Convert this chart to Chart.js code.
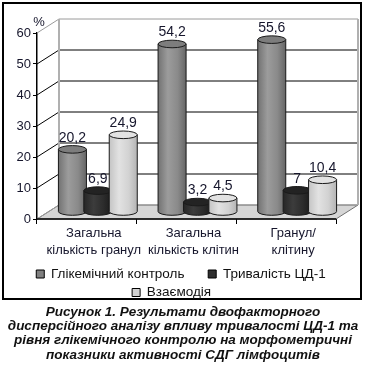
<!DOCTYPE html>
<html>
<head>
<meta charset="utf-8">
<script src="https://cdn.jsdelivr.net/npm/chart.js@4.4.1/dist/chart.umd.min.js"></script>
<style>
  body { margin: 0; background: #fff; width: 366px; height: 368px; position: relative; overflow: hidden; }
  #frame { position: absolute; left: 2px; top: 2px; width: 360px; height: 298px; border: 2px solid #000; box-sizing: border-box; }
  #wrap { position: absolute; left: 0; top: 0; width: 366px; height: 310px; }
  #caption { position: absolute; left: 0; top: 304.5px; width: 366px; text-align: center;
    font: italic bold 13.5px "Liberation Sans", Arial, sans-serif; line-height: 14.4px; color: #111; }
</style>
</head>
<body>
<div id="frame"></div>
<div id="wrap"><canvas id="myChart" width="366" height="310"></canvas></div>
<div id="caption">Рисунок 1. Результати двофакторного<br>дисперсійного аналізу впливу тривалості ЦД-1 та<br>рівня глікемічного контролю на морфометричні<br>показники активності СДГ лімфоцитів</div>
<script>
// data
const categories = [["Загальна", "кількість гранул"], ["Загальна", "кількість клітин"], ["Гранул/", "клітину"]];
const seriesNames = ["Глікемічний контроль", "Тривалість ЦД-1", "Взаємодія"];
const glycemic = [20.2, 54.2, 55.6];
const duration = [6.9, 3.2, 7];
const interaction = [24.9, 4.5, 10.4];
const yMin = 0, yMax = 60, yStep = 10;

const FONT = '"Liberation Sans", Arial, sans-serif';
const TXT = "#16162c";
const DX = 22, DY = -14;   // depth of the 3d box

// body gradient stops + top colour for each cylinder series
const cyl = [
  { stops: ["#727272", "#9c9c9c", "#8a8a8a", "#666666"], top: "#7d7d7d" },
  { stops: ["#262626", "#3c3c3c", "#2c2c2c", "#1a1a1a"], top: "#232323" },
  { stops: ["#c4c4c4", "#e2e2e2", "#d2d2d2", "#b4b4b4"], top: "#e2e2e2" }
];

const box3d = {
  id: "box3d",
  afterLayout(chart) {
    // legend is centred under the whole frame, not under the plot
    chart.legend.left += 11;
    chart.legend.right += 11;
  },
  beforeDatasetsDraw(chart) {
    const ctx = chart.ctx, y = chart.scales.y, a = chart.chartArea;
    ctx.save();
    // floor
    const y0 = y.getPixelForValue(0);
    ctx.beginPath();
    ctx.moveTo(a.left, y0); ctx.lineTo(a.right, y0);
    ctx.lineTo(a.right + DX, y0 + DY); ctx.lineTo(a.left + DX, y0 + DY);
    ctx.closePath();
    ctx.fillStyle = "#d6d6d6"; ctx.fill();
    ctx.strokeStyle = "#707070"; ctx.lineWidth = 1; ctx.stroke();
    // back wall grid + diagonals
    for (let v = yMin; v <= yMax; v += yStep) {
      const py = y.getPixelForValue(v);
      const edge = (v === yMax || v === yMin);
      ctx.strokeStyle = edge ? "#9a9a9a" : "#000";
      ctx.lineWidth = 1;
      ctx.beginPath();
      ctx.moveTo(a.left + DX, py + DY); ctx.lineTo(a.right + DX, py + DY);
      ctx.moveTo(a.left, py); ctx.lineTo(a.left + DX, py + DY);
      ctx.stroke();
    }
    // back verticals
    ctx.strokeStyle = "#b0b0b0"; ctx.lineWidth = 2;
    ctx.beginPath();
    ctx.moveTo(a.left + DX, y.getPixelForValue(yMax) + DY); ctx.lineTo(a.left + DX, y0 + DY);
    ctx.moveTo(a.right + DX, y.getPixelForValue(yMax) + DY); ctx.lineTo(a.right + DX, y0 + DY);
    ctx.stroke();
    // front edge of floor
    ctx.strokeStyle = "#000"; ctx.lineWidth = 1.5;
    ctx.beginPath(); ctx.moveTo(a.left, y0); ctx.lineTo(a.right, y0); ctx.stroke();

    // "%" over the axis
    ctx.fillStyle = TXT; ctx.font = "13px " + FONT;
    ctx.textAlign = "center"; ctx.textBaseline = "middle";
    ctx.fillText("%", a.left + 2, y.getPixelForValue(yMax) - 11);

    // cylinders
    chart.data.datasets.forEach((ds, di) => {
      const meta = chart.getDatasetMeta(di);
      meta.data.forEach((bar, i) => {
        const cx = bar.x + DX / 2, ty = bar.y + DY / 2, by = bar.base + DY / 2;
        const rx = bar.width / 2 + 1.3, ry = 3.8;
        const g = ctx.createLinearGradient(cx - rx, 0, cx + rx, 0);
        const s = cyl[di].stops;
        g.addColorStop(0, s[0]); g.addColorStop(0.35, s[1]); g.addColorStop(0.7, s[2]); g.addColorStop(1, s[3]);
        ctx.beginPath();
        ctx.moveTo(cx - rx, ty);
        ctx.lineTo(cx - rx, by);
        ctx.ellipse(cx, by, rx, ry, 0, Math.PI, 0, true);
        ctx.lineTo(cx + rx, ty);
        ctx.closePath();
        ctx.fillStyle = g; ctx.fill();
        ctx.strokeStyle = "#1a1a1a"; ctx.lineWidth = 1; ctx.stroke();
        ctx.beginPath();
        ctx.ellipse(cx, ty, rx, ry, 0, 0, Math.PI * 2);
        ctx.fillStyle = cyl[di].top; ctx.fill(); ctx.stroke();
        // value label
        ctx.fillStyle = TXT; ctx.font = "14px " + FONT;
        ctx.textAlign = "center"; ctx.textBaseline = "alphabetic";
        ctx.fillText(String(ds.data[i]).replace(".", ","), cx, ty - ry - 4);
      });
    });
    ctx.restore();
    return false;
  }
};

new Chart("myChart", {
  type: "bar",
  data: {
    labels: categories,
    datasets: [
      { label: seriesNames[0], data: glycemic, backgroundColor: "#808080", borderColor: "#000", borderWidth: 1 },
      { label: seriesNames[1], data: duration, backgroundColor: "#2e2e2e", borderColor: "#000", borderWidth: 1 },
      { label: seriesNames[2], data: interaction, backgroundColor: "#d2d2d2", borderColor: "#000", borderWidth: 1 }
    ]
  },
  options: {
    responsive: false,
    animation: false,
    layout: { padding: { left: 4, right: 30, top: 33, bottom: 0.75 } },
    datasets: { bar: { categoryPercentage: 0.765, barPercentage: 1 } },
    scales: {
      x: {
        afterFit(s) { s.height = 43.25; },
        grid: { drawOnChartArea: false, drawTicks: true, tickLength: 5, color: "#000", offset: true },
        border: { display: false },
        ticks: { color: TXT, font: { family: FONT, size: 13, lineHeight: 1.35 }, padding: 0.5, labelOffset: 7, maxRotation: 0 }
      },
      y: {
        min: yMin, max: yMax,
        afterFit(s) { s.width = 33; },
        grid: { drawOnChartArea: false, drawTicks: true, tickLength: 4, color: "#000" },
        border: { display: true, color: "#000", width: 1.5 },
        ticks: { stepSize: yStep, color: TXT, font: { family: FONT, size: 13 }, padding: 2 }
      }
    },
    plugins: {
      tooltip: { enabled: false },
      legend: {
        position: "bottom",
        labels: {
          color: "#111", font: { family: FONT, size: 13.5 }, boxWidth: 8, boxHeight: 8, padding: 5,
          generateLabels(chart) {
            const items = Chart.defaults.plugins.legend.labels.generateLabels(chart);
            items[0].text += "     ";
            items[2].text += "     ";
            return items;
          }
        }
      }
    }
  },
  plugins: [box3d]
});
</script>
</body>
</html>
